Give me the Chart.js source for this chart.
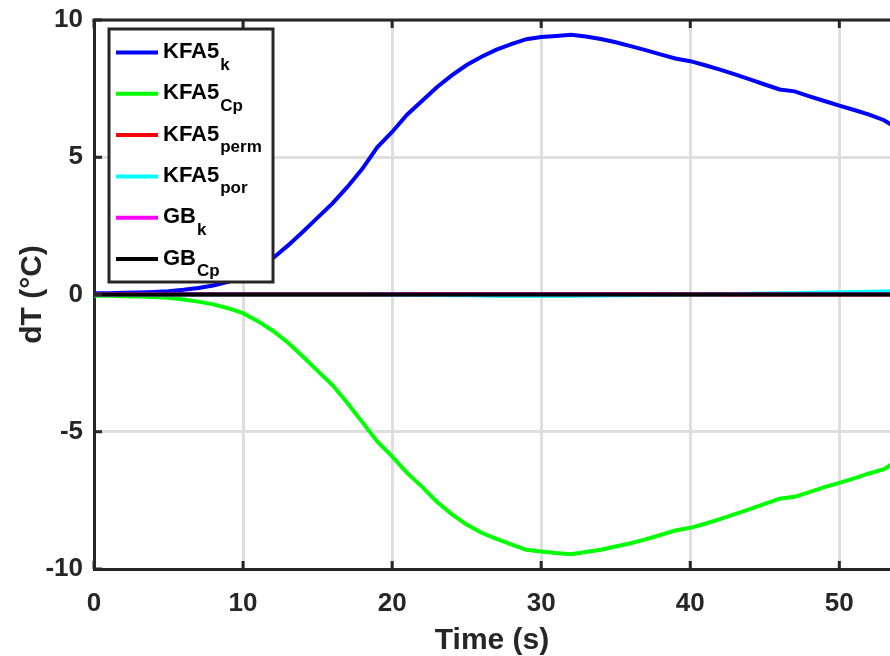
<!DOCTYPE html>
<html>
<head>
<meta charset="utf-8">
<script src="https://cdn.jsdelivr.net/npm/chart.js@4.4.1/dist/chart.umd.min.js"></script>
<style>
  html, body { margin: 0; padding: 0; background: #ffffff; }
  #wrap { width: 890px; height: 656px; position: relative; }
</style>
</head>
<body>
<div id="wrap"><canvas id="c" width="890" height="656"></canvas></div>
<script>
// ---- data ----
const time = [0,1,2,3,4,5,6,7,8,9,10,11,12,13,14,15,16,17,18,19,20,21,22,23,24,25,26,27,28,29,30,31,32,33,34,35,36,37,38,39,40,41,42,43,44,45,46,47,48,49,50,51,52,53,54];
const kfa5K    = [0.05,0.05,0.06,0.07,0.09,0.12,0.17,0.24,0.33,0.46,0.66,0.95,1.32,1.78,2.28,2.80,3.32,3.92,4.58,5.36,5.92,6.55,7.05,7.55,7.98,8.36,8.66,8.92,9.12,9.30,9.38,9.42,9.46,9.40,9.31,9.19,9.05,8.90,8.75,8.60,8.50,8.35,8.19,8.02,7.84,7.65,7.47,7.40,7.22,7.05,6.88,6.72,6.55,6.35,6.02];
const kfa5Cp   = [-0.05,-0.05,-0.06,-0.07,-0.09,-0.12,-0.18,-0.26,-0.36,-0.50,-0.68,-0.97,-1.32,-1.75,-2.25,-2.78,-3.30,-3.95,-4.65,-5.35,-5.90,-6.50,-7.00,-7.55,-8.00,-8.38,-8.68,-8.90,-9.10,-9.30,-9.36,-9.42,-9.46,-9.38,-9.30,-9.18,-9.06,-8.92,-8.76,-8.60,-8.50,-8.35,-8.18,-8.00,-7.82,-7.63,-7.44,-7.37,-7.20,-7.02,-6.86,-6.70,-6.52,-6.36,-6.02];
const kfa5Perm = [0,0,0,0,0,0,0,0,0,0,0,0,0,0,0,0,0,0,0,0,0,0,0,0,0,0,0,0,0,0,0,0,0,0,0,0,0,0,0,0,0,0,0,0,0,0,0,0,0,0,0,0,0,0,0];
const kfa5Por  = [0,0,0,0,0,0,0,0,0,0,0,0,0,0,0,0,0,0,0,0,-0.01,-0.01,-0.02,-0.02,-0.03,-0.03,-0.04,-0.05,-0.05,-0.05,-0.05,-0.05,-0.05,-0.04,-0.04,-0.03,-0.03,-0.02,-0.01,-0.01,0,0,0.01,0.02,0.03,0.04,0.05,0.05,0.06,0.07,0.08,0.09,0.10,0.11,0.12];
const gbK      = [0.01,0.01,0.01,0.01,0.01,0.01,0.01,0.01,0.01,0.01,0.01,0.01,0.01,0.01,0.01,0.01,0.01,0.01,0.01,0.01,0.01,0.01,0.01,0.01,0.01,0.01,0.01,0.01,0.01,0.01,0.01,0.01,0.01,0.01,0.01,0.01,0.01,0.01,0.01,0.01,0.01,0.01,0.01,0.01,0.01,0.01,0.01,0.01,0.01,0.01,0.01,0.01,0.01,0.01,0.01];
const gbCp     = [0,0,0,0,0,0,0,0,0,0,0,0,0,0,0,0,0,0,0,0,0,0,0,0,0,0,0,0,0,0,0,0,0,0,0,0,0,0,0,0,0,0,0,0,0,0,0,0,0,0,0,0,0,0,0];

const seriesMain = ['KFA5', 'KFA5', 'KFA5', 'KFA5', 'GB', 'GB'];
const seriesSub  = ['k', 'Cp', 'perm', 'por', 'k', 'Cp'];
const seriesValues = [kfa5K, kfa5Cp, kfa5Perm, kfa5Por, gbK, gbCp];
const seriesColors = ['#0000ff', '#00ff00', '#ff0000', '#00ffff', '#ff00ff', '#000000'];

const xTickValues = [0, 10, 20, 30, 40, 50];
const yTickValues = [-10, -5, 0, 5, 10];
const xMin = 0, xMax = 53.4, yMin = -10, yMax = 10;
const xTitle = 'Time (s)';
const yTitle = 'dT (°C)';

// ---- styling ----
const FONT = "'Liberation Sans', Arial, Helvetica, sans-serif";
const AXIS_COLOR = '#262626';
const GRID_COLOR = '#dedede';
Chart.defaults.font.family = FONT;
Chart.defaults.color = AXIS_COLOR;

const datasets = seriesValues.map((vals, i) => ({
  label: seriesMain[i] + '_' + seriesSub[i],
  data: time.map((t, j) => ({ x: t, y: vals[j] })),
  borderColor: seriesColors[i],
  backgroundColor: seriesColors[i],
  borderWidth: 4,
  pointRadius: 0,
  tension: 0,
  fill: false,
  order: seriesValues.length - 1 - i
}));

const framePlugin = {
  id: 'frame',
  afterDatasetsDraw(chart) {
    const ctx = chart.ctx;
    const a = chart.chartArea;
    const xs = chart.scales.x, ys = chart.scales.y;
    ctx.save();
    ctx.strokeStyle = AXIS_COLOR;
    ctx.lineWidth = 3;
    // top spine
    ctx.beginPath();
    ctx.moveTo(a.left - 1.5, a.top);
    ctx.lineTo(a.right, a.top);
    ctx.stroke();
    // inward ticks
    const tl = 8;
    ctx.beginPath();
    xTickValues.forEach(v => {
      const px = xs.getPixelForValue(v);
      ctx.moveTo(px, a.bottom); ctx.lineTo(px, a.bottom - tl);
      ctx.moveTo(px, a.top); ctx.lineTo(px, a.top + tl);
    });
    yTickValues.forEach(v => {
      const py = ys.getPixelForValue(v);
      ctx.moveTo(a.left, py); ctx.lineTo(a.left + tl, py);
    });
    ctx.stroke();
    ctx.restore();
  },
  afterDraw(chart) {
    const ctx = chart.ctx;
    // legend box
    const bx = 109, by = 29, bw = 164, bh = 253;
    ctx.save();
    ctx.fillStyle = '#ffffff';
    ctx.fillRect(bx, by, bw, bh);
    ctx.strokeStyle = AXIS_COLOR;
    ctx.lineWidth = 3;
    ctx.strokeRect(bx, by, bw, bh);
    const rowY0 = 52.5, rowStep = 41.3;
    chart.data.datasets.forEach((ds, i) => {
      const y = rowY0 + i * rowStep;
      ctx.strokeStyle = ds.borderColor;
      ctx.lineWidth = 4;
      ctx.beginPath();
      ctx.moveTo(116, y);
      ctx.lineTo(158, y);
      ctx.stroke();
      ctx.fillStyle = '#000000';
      ctx.textAlign = 'left';
      ctx.textBaseline = 'alphabetic';
      ctx.font = 'bold 22px ' + FONT;
      const main = seriesMain[i];
      ctx.fillText(main, 163, y + 5.5);
      const w = ctx.measureText(main).width;
      ctx.font = 'bold 17px ' + FONT;
      ctx.fillText(seriesSub[i], 163 + w + 1, y + 17);
    });
    ctx.restore();
  }
};

new Chart(document.getElementById('c'), {
  type: 'line',
  data: { datasets },
  plugins: [framePlugin],
  options: {
    responsive: false,
    animation: false,
    devicePixelRatio: 1,
    layout: { padding: { top: 20, right: 0, left: 0, bottom: 0 } },
    plugins: { legend: { display: false }, tooltip: { enabled: false } },
    scales: {
      x: {
        type: 'linear',
        min: xMin, max: xMax,
        afterBuildTicks(scale) { scale.ticks = xTickValues.map(v => ({ value: v })); },
        afterFit(scale) { scale.height = 87; scale.paddingLeft = 0; scale.paddingRight = 0; },
        grid: { color: GRID_COLOR, lineWidth: 3, drawTicks: false },
        border: { display: true, color: AXIS_COLOR, width: 3 },
        ticks: { font: { size: 26, weight: 'bold' }, color: AXIS_COLOR, padding: 19, maxRotation: 0 },
        title: { display: true, text: xTitle, font: { size: 30, weight: 'bold', lineHeight: 1 }, color: AXIS_COLOR, padding: { top: 0, bottom: 0 } }
      },
      y: {
        type: 'linear',
        min: yMin, max: yMax,
        afterBuildTicks(scale) { scale.ticks = yTickValues.map(v => ({ value: v })); },
        afterFit(scale) { scale.width = 94; scale.paddingTop = 0; scale.paddingBottom = 0; },
        grid: { color: GRID_COLOR, lineWidth: 3, drawTicks: false },
        border: { display: true, color: AXIS_COLOR, width: 3 },
        ticks: { font: { size: 26, weight: 'bold' }, color: AXIS_COLOR, padding: 11 },
        title: { display: true, text: yTitle, font: { size: 30, weight: 'bold', lineHeight: 1 }, color: AXIS_COLOR, padding: { top: 18, bottom: 0 } }
      }
    }
  }
});
</script>
</body>
</html>
